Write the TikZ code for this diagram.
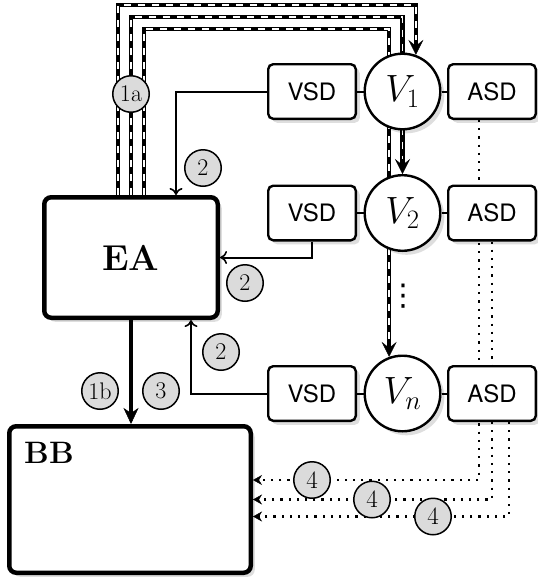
\RequirePackage{fix-cm}
\documentclass[tikz,border=0pt]{standalone}
\usepackage{fontspec}
\newfontfamily\heros{TeX Gyre Heros}
\newfontfamily\djv{DejaVu Sans}
\usetikzlibrary{arrows.meta,shadows,backgrounds,calc}
\tikzset{
 shd/.style={drop shadow={shadow xshift=4pt,shadow yshift=-4pt,fill=black,opacity=0.13}},
 bigbox/.style={draw, line width=4.5pt, rounded corners=7pt, fill=white, inner sep=0pt, shd},
 sdbox/.style={draw, line width=2.4pt, rounded corners=5pt, fill=white, minimum width=87.6pt, minimum height=54.6pt, inner sep=0pt, font=\heros\fontsize{24}{26}\selectfont, shd},
 vcirc/.style={draw, circle, line width=2.4pt, fill=white, minimum size=75.6pt, inner sep=0pt, font=\fontsize{38}{40}\selectfont, shd},
 num/.style={draw, circle, line width=1.5pt, fill=black!14, minimum size=36.5pt, inner sep=0pt, font=\fontsize{24}{25}\selectfont},
 conn/.style={line width=2pt},
 tarrow/.style={conn, -{Computer Modern Rightarrow[length=7pt,width=13pt,line width=1.6pt]}},
 dd/.style={line width=4.6pt, -{Stealth[length=15pt,width=15pt,inset=6pt,line width=0.4pt]}, postaction={draw=white, line width=1.7pt, dash pattern=on 7pt off 7pt, shorten >=15pt, arrows=-}},
 dotl/.style={line width=2.2pt, dash pattern=on 2.2pt off 6pt, -{Stealth[length=9pt,width=10pt,inset=3pt,line width=0.4pt]}},
 bigarrow/.style={line width=4.5pt, -{Stealth[length=16pt,width=15pt,inset=5pt,line width=0.5pt]}},
}
\begin{document}
\begin{tikzpicture}[x=1pt,y=-1pt]
\useasboundingbox (0,0) rectangle (538,582);
% main boxes
\node[bigbox, minimum width=173.5pt, minimum height=120.5pt, font=\bfseries\fontsize{36}{37}\selectfont] (EA) at (131,257.5) {EA};
\node[bigbox, minimum width=241.5pt, minimum height=146.5pt] (BB) at (130,499.5) {};
\node[font=\bfseries\fontsize{31}{32}\selectfont, anchor=north west, inner sep=0pt] (BBt) at (24,442) {BB};
% rows
\node[sdbox] (VSD1) at (312,91.5) {VSD};
\node[vcirc] (V1) at (402.5,91.5) {$V_1$};
\node[sdbox] (ASD1) at (492,91.5) {ASD};
\node[sdbox] (VSD2) at (312,213) {VSD};
\node[vcirc] (V2) at (402.5,213) {$V_2$};
\node[sdbox] (ASD2) at (492,213) {ASD};
\node[sdbox] (VSDn) at (312,393.5) {VSD};
\node[vcirc] (Vn) at (402.5,393.5) {$V_n$};
\node[sdbox] (ASDn) at (492,393.5) {ASD};
\node[font=\djv\fontsize{30}{32}\selectfont, inner sep=0pt] (dots) at (403.5,296) {⋮};
% corner coordinates
\coordinate (t1) at (118,5);
\coordinate (t2) at (131,17);
\coordinate (t3) at (144,29);
\begin{scope}[on background layer]
 \draw[dd] (EA.north -| t1) -- (t1) -- (t1 -| V1.70) -- (V1.70);
 \draw[dd] (EA.north) -- (EA.north |- t2) -- (t2 -| V2.north) -- (V2.north);
 \draw[dd] (EA.north -| t3) -- (t3) -- (t3 -| Vn.110) -- (Vn.110);
 \draw[dotl] ([xshift=-13pt]ASD1.south) |- ([yshift=19.5pt]BB.east);
 \draw[dotl] (ASD2.south) |- (BB.east);
 \draw[dotl] ([xshift=17pt]ASDn.south) |- ([yshift=-17pt]BB.east);
\end{scope}
% plain connectors
\draw[conn] (VSD1.east) -- (V1.west);
\draw[conn] (V1.east) -- (ASD1.west);
\draw[conn] (VSD2.east) -- (V2.west);
\draw[conn] (V2.east) -- (ASD2.west);
\draw[conn] (VSDn.east) -- (Vn.west);
\draw[conn] (Vn.east) -- (ASDn.west);
\draw[tarrow] (VSD1.west) -| ([xshift=45pt]EA.north);
\draw[tarrow] (VSD2.south) |- (EA.east);
\draw[tarrow] (VSDn.west) -| ([xshift=60pt]EA.south);
\draw[bigarrow] (EA.south) -- (EA.south |- BB.north);
% number labels
\node[num] (n1a) at (131,94) {1a};
\node[num] (n2a) at (203,168) {2};
\node[num] (n2b) at (245,283) {2};
\node[num] (n2c) at (221,352) {2};
\node[num] (n1b) at (100,391) {1b};
\node[num] (n3) at (161,391) {3};
\node[num, font=\fontsize{25}{26}\selectfont] (n4a) at (312,480) {4};
\node[num, font=\fontsize{25}{26}\selectfont] (n4b) at (372,499.5) {4};
\node[num, font=\fontsize{25}{26}\selectfont] (n4c) at (433,516.5) {4};
\end{tikzpicture}
\end{document}
